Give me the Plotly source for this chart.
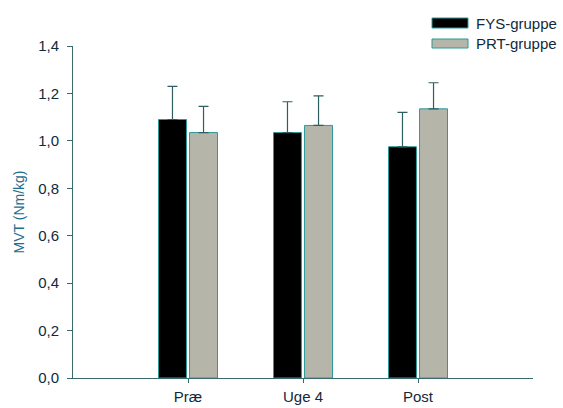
import plotly.graph_objects as go

# Data
categories = ["Præ", "Uge 4", "Post"]
fys_values = [1.09, 1.035, 0.975]
fys_sd = [0.14, 0.13, 0.145]
prt_values = [1.035, 1.065, 1.135]
prt_sd = [0.11, 0.125, 0.11]
series_names = ["FYS-gruppe", "PRT-gruppe"]
ytick_vals = [0, 0.2, 0.4, 0.6, 0.8, 1.0, 1.2, 1.4]
ytick_text = ["0,0", "0,2", "0,4", "0,6", "0,8", "1,0", "1,2", "1,4"]

FONT = "Liberation Sans, Arial, sans-serif"
TEXT_COLOR = "#102a3c"
AXIS_COLOR = "#3b6a6c"
FYS_COLOR = "#000000"
PRT_COLOR = "#b6b5a9"
EDGE_COLOR = "#2a9a9a"
ERR_COLOR = "#2e5e60"

fig = go.Figure()

fig.add_trace(go.Bar(
    x=categories, y=fys_values, name=series_names[0],
    marker=dict(color=FYS_COLOR, line=dict(color=EDGE_COLOR, width=1)),
    error_y=dict(type="data", array=fys_sd, arrayminus=[0] * len(fys_sd),
                 symmetric=False, color=ERR_COLOR, thickness=1.2, width=5),
    showlegend=False,
))
fig.add_trace(go.Bar(
    x=categories, y=prt_values, name=series_names[1],
    marker=dict(color=PRT_COLOR, line=dict(color=EDGE_COLOR, width=1)),
    error_y=dict(type="data", array=prt_sd, arrayminus=[0] * len(prt_sd),
                 symmetric=False, color=ERR_COLOR, thickness=1.2, width=5),
    showlegend=False,
))

# Legend drawn as wide swatches with labels in the top-right corner
W, H = 563, 408
L, R, T, B = 73, 30, 46, 30
PW, PH = W - L - R, H - T - B
legend_items = [(series_names[0], FYS_COLOR, 18, 28), (series_names[1], PRT_COLOR, 39, 48)]
shapes = []
annotations = []
for name, color, y0, y1 in legend_items:
    shapes.append(dict(type="rect", xref="paper", yref="paper",
                       x0=(432 - L) / PW, x1=(468 - L) / PW,
                       y0=(H - B - y1) / PH, y1=(H - B - y0) / PH,
                       fillcolor=color, line=dict(color=EDGE_COLOR, width=1)))
    annotations.append(dict(text=name, xref="paper", yref="paper",
                            x=(474 - L) / PW, y=(H - B - (y0 + y1) / 2) / PH,
                            xanchor="left", yanchor="middle", showarrow=False,
                            font=dict(family=FONT, size=15, color=TEXT_COLOR)))

fig.update_layout(
    width=W, height=H,
    margin=dict(l=L, r=R, t=T, b=B, autoexpand=False),
    paper_bgcolor="white", plot_bgcolor="white",
    barmode="group", bargap=0.46, bargroupgap=0.1,
    font=dict(family=FONT, size=15, color=TEXT_COLOR),
    shapes=shapes, annotations=annotations,
    xaxis=dict(
        range=[-1, 3], showgrid=False, zeroline=False, automargin=False,
        showline=True, linecolor=AXIS_COLOR, linewidth=1,
        ticks="outside", ticklen=4, tickcolor=AXIS_COLOR,
        ticklabelstandoff=1,
        tickfont=dict(family=FONT, size=15, color=TEXT_COLOR),
    ),
    yaxis=dict(
        range=[0, 1.4], showgrid=False, zeroline=False, automargin=False,
        showline=True, linecolor=AXIS_COLOR, linewidth=1,
        ticks="outside", ticklen=5, tickcolor=AXIS_COLOR,
        ticklabelstandoff=5,
        tickvals=ytick_vals, ticktext=ytick_text,
        tickfont=dict(family=FONT, size=15, color=TEXT_COLOR),
        title=dict(text="MVT (Nm/kg)", standoff=10,
                   font=dict(family=FONT, size=14, color="#1f6e8c")),
    ),
)

fig.write_html("out.html")
